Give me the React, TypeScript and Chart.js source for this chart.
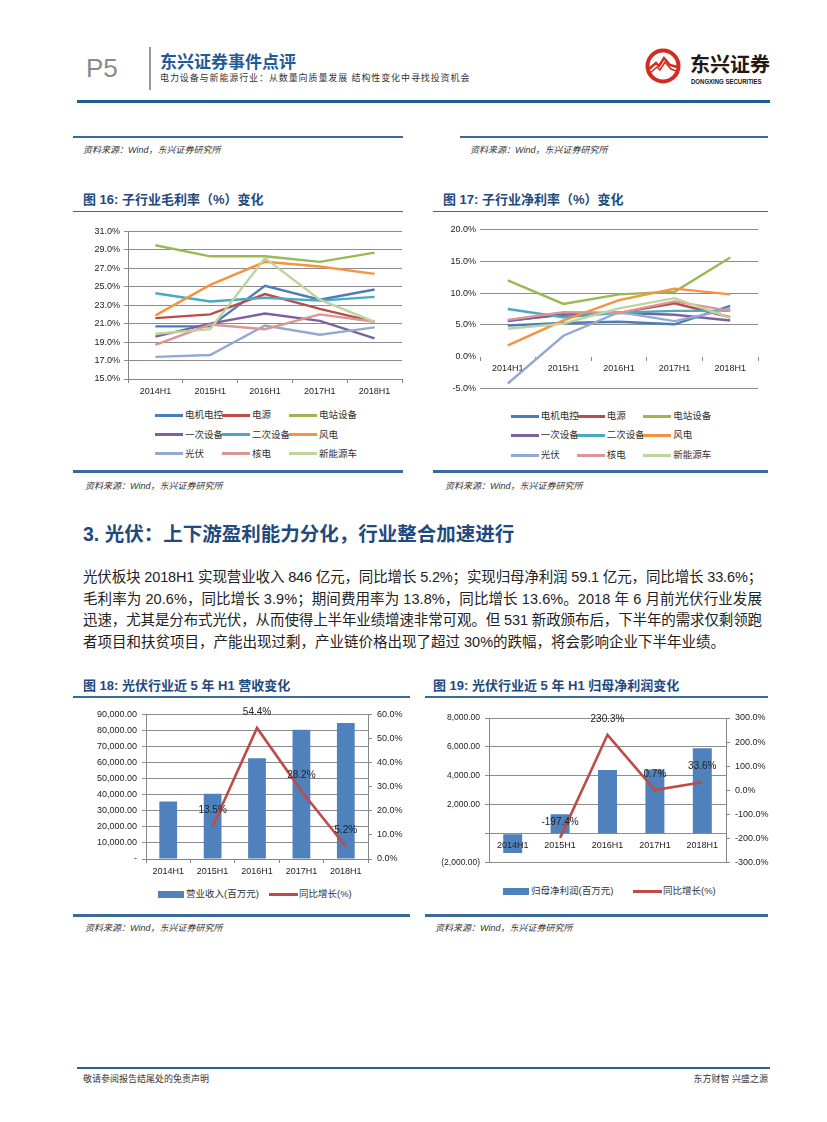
import React, { useEffect, useLayoutEffect, useRef } from 'react';
import { Chart, registerables } from 'chart.js';

Chart.register(...registerables);

const FONT = '"Liberation Sans", "Noto Sans CJK SC", sans-serif';
Chart.defaults.font.family = FONT;
Chart.defaults.font.size = 9;
Chart.defaults.color = '#222';

// ---------- data ----------
const periods = ['2014H1', '2015H1', '2016H1', '2017H1', '2018H1'];
const sectors = ['电机电控', '电源', '电站设备', '一次设备', '二次设备', '风电', '光伏', '核电', '新能源车'];
const sectorColors = ['#4A7EBB', '#BE4B48', '#98B954', '#7D60A0', '#46AAC5', '#F69240', '#93A9CF', '#DA9694', '#BFD49A'];

// 图16 毛利率 (%)
const gmMotor = [20.7, 20.7, 25.1, 23.6, 24.7];
const gmPower = [21.6, 22.0, 24.2, 22.6, 21.2];
const gmStation = [29.5, 28.3, 28.3, 27.7, 28.7];
const gmPrimary = [19.6, 21.0, 22.1, 21.3, 19.4];
const gmSecondary = [24.3, 23.4, 23.8, 23.5, 23.9];
const gmWind = [21.9, 25.2, 27.7, 27.2, 26.4];
const gmSolar = [17.4, 17.6, 20.8, 19.8, 20.6];
const gmNuclear = [18.7, 20.9, 20.4, 22.0, 21.2];
const gmEV = [19.9, 20.4, 28.1, 23.6, 21.2];
const grossMargin = [gmMotor, gmPower, gmStation, gmPrimary, gmSecondary, gmWind, gmSolar, gmNuclear, gmEV];

// 图17 净利率 (%)
const nmMotor = [4.9, 5.3, 5.5, 5.1, 8.0];
const nmPower = [5.7, 6.6, 6.9, 8.4, 6.2];
const nmStation = [12.0, 8.3, 9.8, 10.2, 15.6];
const nmPrimary = [5.6, 6.7, 6.9, 6.6, 5.7];
const nmSecondary = [7.5, 6.2, 6.9, 7.2, 7.2];
const nmWind = [1.8, 5.7, 8.9, 10.7, 9.8];
const nmSolar = [-4.2, 3.3, 7.0, 5.6, 7.5];
const nmNuclear = [5.8, 7.0, 6.9, 8.7, 7.2];
const nmEV = [4.4, 5.2, 7.6, 9.2, 6.1];
const netMargin = [nmMotor, nmPower, nmStation, nmPrimary, nmSecondary, nmWind, nmSolar, nmNuclear, nmEV];

// 图18 营收 (百万元) / 同比 (%)
const revenue = [35800, 40630, 62730, 80420, 84600];
const revenueGrowth = [null, 13.5, 54.4, 28.2, 5.2];
// 图19 归母净利润 (百万元) / 同比 (%)
const netProfit = [-1330, 1340, 4400, 4430, 5910];
const profitGrowth = [null, -197.4, 230.3, 0.7, 33.6];

const paragraphLines = [
  '光伏板块 2018H1 实现营业收入 846 亿元，同比增长 5.2%；实现归母净利润 59.1 亿元，同比增长 33.6%；',
  '毛利率为 20.6%，同比增长 3.9%；期间费用率为 13.8%，同比增长 13.6%。2018 年 6 月前光伏行业发展',
  '迅速，尤其是分布式光伏，从而使得上半年业绩增速非常可观。但 531 新政颁布后，下半年的需求仅剩领跑',
  '者项目和扶贫项目，产能出现过剩，产业链价格出现了超过 30%的跌幅，将会影响企业下半年业绩。',
];

// ---------- helpers ----------
const GRID = '#8C8C8C';
const AXIS = '#868686';
const BLUE = '#1F4A7E';
const LINEBLUE = '#3A6A9C';
const fmtPct1 = (v: any) => Number(v).toFixed(1) + '%';
const fmtNum = (v: number) => v.toLocaleString('en-US', { minimumFractionDigits: 2, maximumFractionDigits: 2 });

function makeLabelPlugin(datasetIndex: number, offset: number, tag: string) {
  return {
    id: 'pointLabels' + tag,
    afterDatasetsDraw(chart: any) {
      const meta = chart.getDatasetMeta(datasetIndex);
      const data = chart.data.datasets[datasetIndex].data;
      const ctx = chart.ctx;
      ctx.save();
      ctx.font = '10px ' + FONT;
      ctx.fillStyle = '#222';
      ctx.textAlign = 'center';
      ctx.textBaseline = 'middle';
      meta.data.forEach((el: any, i: number) => {
        const v = data[i];
        if (v === null || v === undefined) return;
        ctx.fillText(Number(v).toFixed(1) + '%', el.x, el.y - offset);
      });
      ctx.restore();
    },
  };
}

function ChartBox({ left, top, width, height, make }: any) {
  const ref = useRef<HTMLCanvasElement>(null);
  useEffect(() => {
    const chart = new Chart(ref.current as HTMLCanvasElement, make());
    return () => chart.destroy();
  }, []);
  return (
    <div style={{ position: 'absolute', left, top, width, height }}>
      <canvas ref={ref} />
    </div>
  );
}

function lineDatasets(values: number[][]) {
  return sectors.map((name, i) => ({
    label: name,
    data: values[i],
    borderColor: sectorColors[i],
    backgroundColor: sectorColors[i],
    borderWidth: 2.4,
    pointRadius: 0,
    tension: 0,
    order: sectors.length - i,
  }));
}

const makeChart16 = () => ({
  type: 'line',
  data: { labels: periods, datasets: lineDatasets(grossMargin) },
  options: {
    animation: false,
    responsive: true,
    maintainAspectRatio: false,
    layout: { padding: { top: 6, right: 3, left: 0, bottom: 0 } },
    plugins: { legend: { display: false }, tooltip: { enabled: false } },
    scales: {
      x: {
        offset: true,
        grid: { drawOnChartArea: false, drawTicks: true, tickLength: 4, offset: true, color: AXIS },
        border: { color: AXIS },
        ticks: { padding: 3, maxRotation: 0 },
        afterFit: (s: any) => { s.height = 21; },
      },
      y: {
        min: 15, max: 31,
        ticks: { stepSize: 2, padding: 4, callback: fmtPct1 },
        grid: { color: GRID, tickLength: 4 },
        border: { color: AXIS },
        afterFit: (s: any) => { s.width = 48; },
      },
    },
  },
});

const makeChart17 = () => ({
  type: 'line',
  data: { labels: periods, datasets: lineDatasets(netMargin) },
  options: {
    animation: false,
    responsive: true,
    maintainAspectRatio: false,
    layout: { padding: { top: 8, right: 7, left: 0, bottom: 8 } },
    plugins: { legend: { display: false }, tooltip: { enabled: false } },
    scales: {
      x: {
        position: { y: 0 },
        offset: true,
        grid: { drawOnChartArea: false, drawTicks: true, tickLength: 4, offset: true, color: AXIS },
        border: { display: false },
        ticks: { padding: 2, maxRotation: 0 },
      },
      y: {
        min: -5, max: 20,
        ticks: { stepSize: 5, padding: 4, callback: fmtPct1 },
        grid: { drawTicks: false, color: (c: any) => (c.tick && c.tick.value === 0 ? 'rgba(0,0,0,0)' : GRID) },
        border: { display: false },
        afterFit: (s: any) => { s.width = 50; },
      },
    },
  },
});

const makeChart18 = () => ({
  type: 'bar',
  data: {
    labels: periods,
    datasets: [
      { type: 'bar', label: '营业收入(百万元)', data: revenue, backgroundColor: '#4F81BD', yAxisID: 'y', barPercentage: 0.4, categoryPercentage: 1, order: 2 },
      { type: 'line', label: '同比增长(%)', data: revenueGrowth, borderColor: '#BE4B48', backgroundColor: '#BE4B48', borderWidth: 2.6, pointRadius: 0, tension: 0, yAxisID: 'y1', order: 1 },
    ],
  },
  options: {
    animation: false,
    responsive: true,
    maintainAspectRatio: false,
    layout: { padding: { top: 10, right: 0, left: 0, bottom: 0 } },
    plugins: { legend: { display: false }, tooltip: { enabled: false } },
    scales: {
      x: {
        grid: { drawOnChartArea: false, offset: true, tickLength: 4, color: AXIS },
        border: { color: AXIS },
        ticks: { padding: 3, maxRotation: 0 },
        afterFit: (s: any) => { s.height = 21; },
      },
      y: {
        position: 'left', min: 0, max: 90000,
        ticks: { stepSize: 10000, padding: 5, callback: (v: any) => (Number(v) === 0 ? '-' : fmtNum(Number(v))) },
        grid: { color: GRID, tickLength: 4 },
        border: { color: AXIS },
        afterFit: (s: any) => { s.width = 61; },
      },
      y1: {
        position: 'right', min: 0, max: 60,
        ticks: { stepSize: 10, padding: 5, callback: fmtPct1 },
        grid: { drawOnChartArea: false, tickLength: 4, color: AXIS },
        border: { color: AXIS },
        afterFit: (s: any) => { s.width = 37; },
      },
    },
  },
  plugins: [makeLabelPlugin(1, 16, 'A')],
});

const makeChart19 = () => ({
  type: 'bar',
  data: {
    labels: periods,
    datasets: [
      { type: 'bar', label: '归母净利润(百万元)', data: netProfit, backgroundColor: '#4F81BD', yAxisID: 'y', barPercentage: 0.4, categoryPercentage: 1, order: 2 },
      { type: 'line', label: '同比增长(%)', data: profitGrowth, borderColor: '#BE4B48', backgroundColor: '#BE4B48', borderWidth: 2.6, pointRadius: 0, tension: 0, yAxisID: 'y1', order: 1 },
    ],
  },
  options: {
    animation: false,
    responsive: true,
    maintainAspectRatio: false,
    layout: { padding: { top: 13, right: 0, left: 0, bottom: 6 } },
    plugins: { legend: { display: false }, tooltip: { enabled: false } },
    scales: {
      x: {
        position: { y: 0 },
        grid: { drawOnChartArea: false, drawTicks: false, offset: true, color: AXIS },
        border: { display: false },
        ticks: { padding: 6, maxRotation: 0, z: 1 },
      },
      y: {
        position: 'left', min: -2000, max: 8000,
        ticks: {
          stepSize: 2000, padding: 5, font: { size: 8.5 },
          callback: (v: any) => { const n = Number(v); return n < 0 ? '(' + fmtNum(-n) + ')' : n === 0 ? '' : fmtNum(n); },
        },
        grid: { color: GRID, tickLength: 4 },
        border: { color: AXIS },
        afterFit: (s: any) => { s.width = 59; },
      },
      y1: {
        position: 'right', min: -300, max: 300,
        ticks: { stepSize: 100, padding: 5, callback: fmtPct1 },
        grid: { drawOnChartArea: false, tickLength: 4, color: AXIS },
        border: { color: AXIS },
        afterFit: (s: any) => { s.width = 44; },
      },
    },
  },
  plugins: [makeLabelPlugin(1, 16, 'B')],
});

// ---------- layout components ----------
function T({ x, y, size, children, style }: any) {
  return (
    <div style={{ position: 'absolute', left: x, top: y - size * 0.6, fontSize: size, lineHeight: size * 1.2 + 'px', whiteSpace: 'nowrap', ...style }}>
      {children}
    </div>
  );
}

function HLine({ x1, x2, y, w, color }: any) {
  return <div style={{ position: 'absolute', left: x1, top: y - w / 2, width: x2 - x1, height: w, background: color }} />;
}

function Source({ x, y }: any) {
  return <T x={x} y={y} size={9} style={{ fontStyle: 'italic', color: '#333' }}>资料来源：Wind，东兴证券研究所</T>;
}

function FigTitle({ x, y, children }: any) {
  return <T x={x} y={y} size={13} style={{ fontWeight: 'bold', color: BLUE }}>{children}</T>;
}

function LineLegend({ colX, rowY }: any) {
  return (
    <>
      {sectors.map((name, i) => {
        const cx = colX[i % 3];
        const cy = rowY[Math.floor(i / 3)];
        return (
          <React.Fragment key={name}>
            <div style={{ position: 'absolute', left: cx, top: cy - 1.5, width: 28, height: 3, background: sectorColors[i] }} />
            <T x={cx + 30} y={cy} size={9.5} style={{ color: '#333' }}>{name}</T>
          </React.Fragment>
        );
      })}
    </>
  );
}

function ComboLegend({ barX, lineX, y, barLabel }: any) {
  return (
    <>
      <div style={{ position: 'absolute', left: barX, top: y - 3.5, width: 26, height: 7, background: '#4F81BD' }} />
      <T x={barX + 28} y={y} size={9.5} style={{ color: '#333' }}>{barLabel}</T>
      <div style={{ position: 'absolute', left: lineX, top: y - 1.5, width: 29, height: 3, background: '#BE4B48' }} />
      <T x={lineX + 30} y={y} size={9.5} style={{ color: '#333' }}>同比增长(%)</T>
    </>
  );
}

function Paragraph({ x, top, width, size, lh }: any) {
  const refs = useRef<(HTMLSpanElement | null)[]>([]);
  useLayoutEffect(() => {
    refs.current.forEach((el, i) => {
      if (!el || i === paragraphLines.length - 1) return;
      el.style.letterSpacing = '0px';
      const w = el.getBoundingClientRect().width;
      const n = paragraphLines[i].length;
      el.style.letterSpacing = ((width - w) / n) + 'px';
    });
  }, []);
  return (
    <div style={{ position: 'absolute', left: x, top, width: width + 20, fontSize: size, lineHeight: lh + 'px', color: '#222' }}>
      {paragraphLines.map((line, i) => (
        <div key={i} style={{ whiteSpace: 'nowrap', height: lh }}>
          <span ref={(el) => { refs.current[i] = el; }} style={{ display: 'inline-block', whiteSpace: 'nowrap' }}>{line}</span>
        </div>
      ))}
    </div>
  );
}

function Logo() {
  return (
    <>
      <svg style={{ position: 'absolute', left: 645, top: 48 }} width={36} height={36} viewBox="0 0 36 36">
        <circle cx={18} cy={18} r={15.5} fill="#fff" stroke="#D52B1E" strokeWidth={4} />
        <path d="M4 21 L11 15 L14 18 L19 10 L25 17 L32 19" fill="none" stroke="#D52B1E" strokeWidth={2.4} />
        <path d="M5 25 L12 19 L15 22 L20 14 L26 21 L31 23" fill="none" stroke="#D52B1E" strokeWidth={1.6} />
      </svg>
      <T x={690} y={65} size={20} style={{ fontWeight: 'bold', color: '#231815' }}>东兴证券</T>
      <div style={{ position: 'absolute', left: 691, top: 78, fontSize: 7, fontWeight: 'bold', color: '#231815', whiteSpace: 'nowrap', transform: 'scaleX(0.86)', transformOrigin: 'left top', lineHeight: '8px' }}>
        DONGXING SECURITIES
      </div>
    </>
  );
}

export default function App() {
  return (
    <div style={{ position: 'absolute', left: 0, top: 0, width: 827, height: 1122, background: '#fff', fontFamily: FONT, overflow: 'hidden' }}>
      {/* header */}
      <T x={86} y={69} size={26} style={{ color: '#8a8a8a' }}>P5</T>
      <div style={{ position: 'absolute', left: 149, top: 47, width: 2, height: 43, background: '#9a9a9a' }} />
      <T x={160} y={63} size={17} style={{ fontWeight: 'bold', color: '#1F5C99' }}>东兴证券事件点评</T>
      <T x={160} y={78} size={9} style={{ color: '#333', letterSpacing: 0.9 }}>电力设备与新能源行业：从数量向质量发展 结构性变化中寻找投资机会</T>
      <Logo />
      <HLine x1={77} x2={770} y={101.5} w={3.5} color="#1F5C91" />

      {/* previous figures' sources */}
      <HLine x1={73} x2={403} y={137} w={1.5} color={LINEBLUE} />
      <HLine x1={460} x2={768} y={137} w={1.5} color={LINEBLUE} />
      <Source x={83} y={150} />
      <Source x={470} y={150} />

      {/* fig 16 / 17 */}
      <FigTitle x={83} y={200}>图 16: 子行业毛利率（%）变化</FigTitle>
      <FigTitle x={443} y={200}>图 17: 子行业净利率（%）变化</FigTitle>
      <HLine x1={73} x2={403} y={211.5} w={1.5} color={LINEBLUE} />
      <HLine x1={433} x2={768} y={211.5} w={1.5} color={LINEBLUE} />
      <ChartBox left={80} top={222} width={325} height={178} make={makeChart16} />
      <ChartBox left={430} top={220} width={335} height={178} make={makeChart17} />
      <LineLegend colX={[155, 222, 289]} rowY={[415, 434.3, 453.3]} />
      <LineLegend colX={[510.7, 576.7, 643.3]} rowY={[416, 435, 455]} />
      <HLine x1={73} x2={403} y={471.5} w={2.5} color={LINEBLUE} />
      <HLine x1={433} x2={768} y={471.5} w={2.5} color={LINEBLUE} />
      <Source x={85} y={486} />
      <Source x={445} y={486} />

      {/* section */}
      <T x={83} y={535} size={19.5} style={{ fontWeight: 'bold', color: BLUE }}>3. 光伏：上下游盈利能力分化，行业整合加速进行</T>
      <Paragraph x={83} top={567.25} width={679} size={14.5} lh={21.5} />

      {/* fig 18 / 19 */}
      <FigTitle x={83} y={686}>图 18: 光伏行业近 5 年 H1 营收变化</FigTitle>
      <FigTitle x={433} y={686}>图 19: 光伏行业近 5 年 H1 归母净利润变化</FigTitle>
      <HLine x1={73} x2={410} y={697} w={1.5} color={LINEBLUE} />
      <HLine x1={425} x2={768} y={697} w={1.5} color={LINEBLUE} />
      <ChartBox left={85} top={704} width={320} height={176} make={makeChart18} />
      <ChartBox left={430} top={705} width={340} height={168} make={makeChart19} />
      <ComboLegend barX={158} lineX={269} y={894} barLabel="营业收入(百万元)" />
      <ComboLegend barX={503} lineX={633} y={891} barLabel="归母净利润(百万元)" />
      <HLine x1={73} x2={410} y={915.5} w={2.5} color={LINEBLUE} />
      <HLine x1={425} x2={768} y={915.5} w={2.5} color={LINEBLUE} />
      <Source x={85} y={928} />
      <Source x={435} y={928} />

      {/* footer */}
      <HLine x1={77} x2={770} y={1068} w={1.5} color="#2F5F95" />
      <T x={83} y={1079} size={9} style={{ color: '#333' }}>敬请参阅报告结尾处的免责声明</T>
      <div style={{ position: 'absolute', right: 827 - 768, top: 1079 - 5.4, fontSize: 9, lineHeight: '10.8px', color: '#333', whiteSpace: 'nowrap' }}>东方财智 兴盛之源</div>
    </div>
  );
}
